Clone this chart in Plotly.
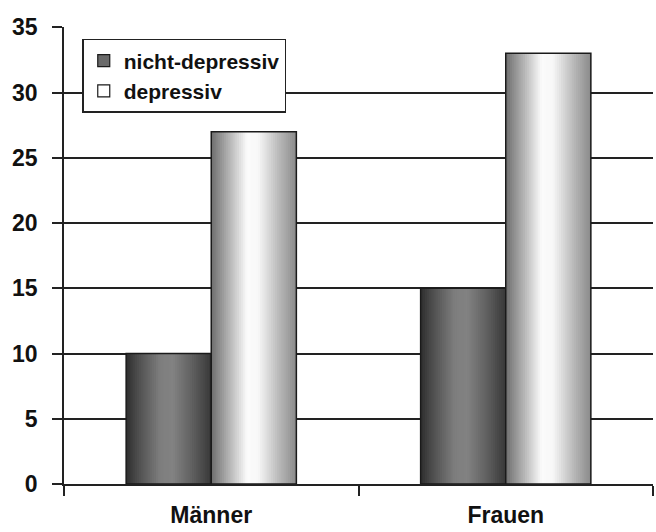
import numpy as np
import plotly.graph_objects as go

categories = ["Männer", "Frauen"]
series_names = ["nicht-depressiv", "depressiv"]
nicht_depressiv = [10, 15]
depressiv = [27, 33]
y_ticks = [0, 5, 10, 15, 20, 25, 30, 35]

series_values = [nicht_depressiv, depressiv]

# styling (gradient stops per series)
grad_stops = [
    [(0.0, 46), (0.15, 80), (0.4, 126), (0.55, 130), (0.8, 92), (1.0, 56)],
    [(0.0, 110), (0.2, 176), (0.42, 251), (0.55, 248), (0.8, 184), (1.0, 138)],
]
legend_colors = ["#6a6a6a", "#ffffff"]
bar_w = 0.289
N = 40

def grey_at(stops, t):
    xs = [s[0] for s in stops]
    vs = [s[1] for s in stops]
    v = int(round(np.interp(t, xs, vs)))
    return f"rgb({v},{v},{v})"

fig = go.Figure()
for s, vals in enumerate(series_values):
    base = -bar_w + s * bar_w
    sw = bar_w / N
    for i in range(N):
        t = (i + 0.5) / N
        fig.add_trace(go.Bar(
            x=categories, y=vals, width=bar_w - i * sw, offset=base + i * sw,
            marker=dict(color=grey_at(grad_stops[s], t), line=dict(width=0)),
            showlegend=False, hoverinfo="skip"))
    fig.add_trace(go.Bar(
        x=categories, y=vals, width=bar_w, offset=base,
        marker=dict(color="rgba(0,0,0,0)", line=dict(color="#1a1a1a", width=1.5)),
        showlegend=False, name=series_names[s]))

for s, name in enumerate(series_names):
    fig.add_trace(go.Bar(
        x=[categories[0]], y=[None], name=name,
        marker=dict(color=legend_colors[s], line=dict(color="#1a1a1a", width=1.2)),
        showlegend=True))

font_family = "Liberation Sans, Arial, sans-serif"
fig.update_layout(
    width=656, height=532,
    margin=dict(l=64, r=3, t=27, b=48),
    paper_bgcolor="white", plot_bgcolor="white",
    barmode="overlay",
    font=dict(family=font_family, color="#111"),
    showlegend=True,
    legend=dict(x=0.031, y=0.974, xanchor="left", yanchor="top",
                bgcolor="white", bordercolor="#222", borderwidth=1.5,
                font=dict(size=21, weight="bold", family=font_family, color="#111"),
                traceorder="normal"),
    xaxis=dict(type="category", showline=True, linecolor="#222", linewidth=1.5,
               ticks="outside", ticklen=10, tickwidth=1.5, tickcolor="#222",
               tickson="boundaries", showgrid=False, automargin=False,
               tickfont=dict(size=23, weight="bold", family=font_family, color="#111"),
               ticklabelstandoff=10,
               range=[-0.5, 1.5]),
    yaxis=dict(range=[0, 35.02], tickvals=y_ticks, showline=True, linecolor="#222",
               linewidth=1.5, ticks="outside", ticklen=10, tickwidth=1.5, tickcolor="#222",
               showgrid=True, gridcolor="#222", gridwidth=1.5, zeroline=False,
               ticklabelstandoff=10, automargin=False,
               tickfont=dict(size=23, weight="bold", family=font_family, color="#111")),
)

fig.write_html("out.html", config={"displayModeBar": False},
               post_script="document.body.style.margin='0px';")
